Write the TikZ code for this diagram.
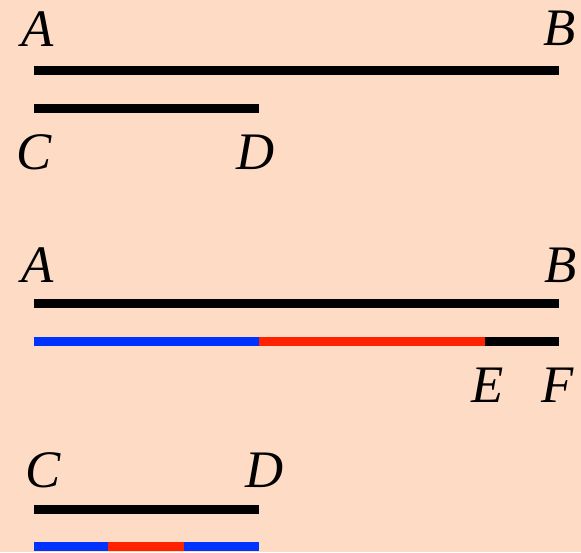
\documentclass[tikz,border=0pt]{standalone}
\usepackage{fontspec}
\setmainfont{Liberation Serif}
\usepackage{tikz}
\definecolor{peach}{RGB}{253,219,196}
\definecolor{segblue}{RGB}{0,51,255}
\definecolor{segred}{RGB}{255,34,0}
\tikzset{
  seg/.style={line width=0.18cm, line cap=butt},
  lbl/.style={font=\fontsize{30}{30}\selectfont\itshape, inner sep=0pt}
}
\begin{document}
\begin{tikzpicture}[x=0.02cm, y=-0.02cm]
\fill[peach] (0,0) rectangle (581,552);
% first picture
\coordinate (A1) at (34,70.5);
\coordinate (B1) at (559,70.5);
\coordinate (C1) at (34,108);
\coordinate (D1) at (259,108);
\draw[seg] (A1) -- (B1);
\draw[seg] (C1) -- (D1);
\node[lbl] (a1) at (38,29) {A};
\node[lbl] (b1) at (560,28) {B};
\node[lbl] (c1) at (34,152) {C};
\node[lbl] (d1) at (256,152) {D};
% second picture
\coordinate (A2) at (34,303);
\coordinate (B2) at (559,303);
\coordinate (P2) at (34,341);
\coordinate (Q2) at (259,341);
\coordinate (E2) at (485,341);
\coordinate (F2) at (559,341);
\draw[seg] (A2) -- (B2);
\draw[seg, segblue] (P2) -- (Q2);
\draw[seg, segred] (Q2) -- (E2);
\draw[seg] (E2) -- (F2);
\node[lbl] (a2) at (38,265) {A};
\node[lbl] (b2) at (561,265) {B};
\node[lbl] (e2) at (488,385) {E};
\node[lbl] (f2) at (558,385) {F};
% third picture
\coordinate (C3) at (34,509);
\coordinate (D3) at (259,509);
\coordinate (P3) at (34,546);
\coordinate (Q3) at (108,546);
\coordinate (R3) at (184,546);
\coordinate (S3) at (259,546);
\draw[seg] (C3) -- (D3);
\draw[seg, segblue] (P3) -- (Q3);
\draw[seg, segred] (Q3) -- (R3);
\draw[seg, segblue] (R3) -- (S3);
\node[lbl] (c3) at (43,470) {C};
\node[lbl] (d3) at (265,470) {D};
\end{tikzpicture}
\end{document}
